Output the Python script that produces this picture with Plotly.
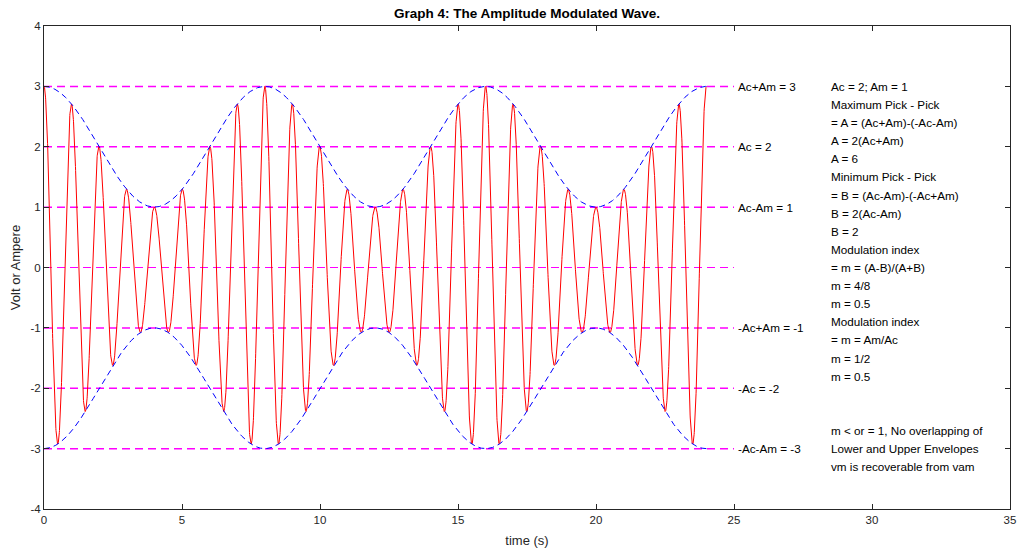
import numpy as np
import plotly.graph_objects as go

# Parameters
Ac = 2.0          # carrier amplitude
Am = 1.0          # message amplitude
fc = 1.0          # carrier frequency (Hz)  - one cycle per second
fm = 1.0 / 8.0    # message frequency (Hz) - envelope period 8 s
t_end = 24.0
line_end = 25.0

level_values = [3, 2, 1, 0, -1, -2, -3]
level_labels = ["Ac+Am = 3", "Ac = 2", "Ac-Am = 1", None, "-Ac+Am = -1", "-Ac = -2", "-Ac-Am = -3"]

notes = [
    "Ac = 2; Am = 1",
    "Maximum Pick - Pick",
    "= A = (Ac+Am)-(-Ac-Am)",
    "A = 2(Ac+Am)",
    "A = 6",
    "Minimum Pick - Pick",
    "= B = (Ac-Am)-(-Ac+Am)",
    "B = 2(Ac-Am)",
    "B = 2",
    "Modulation index",
    "= m = (A-B)/(A+B)",
    "m = 4/8",
    "m = 0.5",
    "Modulation index",
    "= m = Am/Ac",
    "m = 1/2",
    "m = 0.5",
]
notes_y = [3.0 - 0.3 * i for i in range(len(notes))]
notes2 = [
    "m < or = 1, No overlapping of",
    "Lower and Upper Envelopes",
    "vm is recoverable from vam",
]
notes2_y = [-2.7, -3.0, -3.3]

xticks = [0, 5, 10, 15, 20, 25, 30, 35]
yticks = [-4, -3, -2, -1, 0, 1, 2, 3, 4]

t = np.linspace(0, t_end, 4801)
env = Ac + Am * np.cos(2 * np.pi * fm * t)
wave = env * np.cos(2 * np.pi * fc * t)

FONT = "Liberation Sans, Arial, Helvetica, sans-serif"
AX = "#262626"

fig = go.Figure()

# reference levels
for v in level_values:
    fig.add_trace(go.Scatter(
        x=[0, line_end], y=[v, v], mode="lines",
        line=dict(color="#ff00ff", width=1 if v == 0 else 1.5, dash="8px,5px"),
        hoverinfo="skip", showlegend=False))

fig.add_trace(go.Scatter(x=t, y=wave, mode="lines",
                         line=dict(color="#ff0000", width=1), showlegend=False))
fig.add_trace(go.Scatter(x=t, y=env, mode="lines",
                         line=dict(color="#0000ff", width=1, dash="6px,4px"), showlegend=False))
fig.add_trace(go.Scatter(x=t, y=-env, mode="lines",
                         line=dict(color="#0000ff", width=1, dash="6px,4px"), showlegend=False))

annotations = []
for v, lab in zip(level_values, level_labels):
    if lab:
        annotations.append(dict(x=line_end, y=v, text=lab, xanchor="left", yanchor="middle",
                                xshift=2, showarrow=False, font=dict(family=FONT, size=11.7, color="#000000")))
for s, y in zip(notes + notes2, notes_y + notes2_y):
    annotations.append(dict(x=28.45, y=y, text=s, xanchor="left", yanchor="middle",
                            showarrow=False, font=dict(family=FONT, size=11.7, color="#000000")))

fig.update_layout(
    width=1019, height=550,
    margin=dict(l=44, r=9, t=26, b=41, autoexpand=False),
    paper_bgcolor="white", plot_bgcolor="white",
    font=dict(family=FONT, size=11, color=AX),
    title=dict(text="<b>Graph 4: The Amplitude Modulated Wave.</b>", x=527 / 1019, xanchor="center",
               y=1 - 13 / 550, yanchor="middle", font=dict(family=FONT, size=13.5, color="#000000")),
    annotations=annotations,
    showlegend=False,
)
fig.update_xaxes(range=[0, 35], tickvals=xticks, ticktext=[str(v) for v in xticks],
                 ticks="inside", ticklen=5, tickcolor=AX, showline=True, linecolor=AX, linewidth=1,
                 mirror="ticks", showgrid=False, zeroline=False, automargin=False,
                 title=dict(text="time (s)", font=dict(family=FONT, size=13, color=AX), standoff=11),
                 tickfont=dict(family=FONT, size=11.5, color=AX))
fig.update_yaxes(range=[-4, 4], tickvals=yticks, ticktext=[str(v) for v in yticks],
                 ticks="inside", ticklen=5, tickcolor=AX, showline=True, linecolor=AX, linewidth=1,
                 mirror="ticks", showgrid=False, zeroline=False, automargin=False,
                 title=dict(text="Volt or Ampere", font=dict(family=FONT, size=13, color=AX), standoff=6),
                 tickfont=dict(family=FONT, size=11.5, color=AX))

fig.write_html("out.html")
